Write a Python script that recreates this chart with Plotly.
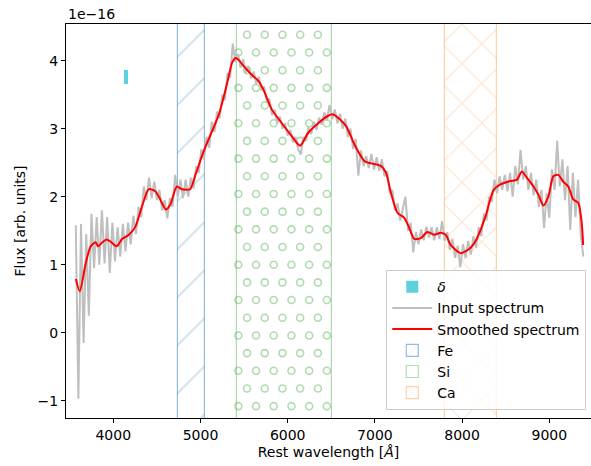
import numpy as np
import plotly.graph_objects as go

# ---------------- data (flux in units of 1e-16) ----------------
input_flux = [
    1.58, -0.97, 1.60, -0.15, 1.45, 0.25, 1.75, 0.95, 1.70, 1.00,
    1.80, 1.02, 1.70, 0.88, 1.62, 1.05, 1.55, 1.12, 1.60, 1.20,
    1.62, 1.30, 1.72, 1.45, 1.85, 1.70, 2.15, 1.95, 2.28, 1.98,
    2.22, 1.95, 2.10, 1.80, 1.95, 1.68, 1.98, 1.85, 2.32, 2.00,
    2.25, 1.98, 2.25, 2.00, 2.28, 2.12, 2.45, 2.35, 2.70, 2.55,
    2.88, 2.72, 3.10, 2.95, 3.25, 3.15, 3.50, 3.42, 3.82, 3.75,
    4.25, 3.98, 4.10, 3.90, 4.02, 3.82, 3.92, 3.74, 3.84, 3.66,
    3.76, 3.56, 3.62, 3.40, 3.44, 3.20, 3.28, 3.08, 3.18, 3.00,
    3.08, 2.90, 2.98, 2.80, 2.88, 2.70, 2.62, 2.88, 2.82, 3.02,
    2.92, 3.10, 2.98, 3.16, 3.06, 3.24, 3.12, 3.35, 3.14, 3.28,
    3.08, 3.22, 3.00, 3.15, 2.88, 3.00, 2.70, 2.85, 2.31, 2.68,
    2.45, 2.60, 2.42, 2.63, 2.40, 2.58, 2.38, 2.55, 2.30, 2.38,
    2.05, 2.10, 1.80, 1.90, 1.65, 1.85, 2.00, 1.50, 1.62, 1.18,
    1.48, 1.30, 1.52, 1.36, 1.56, 1.40, 1.55, 1.36, 1.55, 1.38,
    1.64, 1.35, 1.48, 1.22, 1.38, 1.10, 1.28, 0.96, 1.30, 1.10,
    1.35, 1.15, 1.42, 1.25, 1.55, 1.42, 1.75, 1.65, 2.00, 1.92,
    2.25, 2.05, 2.30, 2.10, 2.32, 2.08, 2.35, 2.00, 2.45, 2.18,
    2.69, 2.25, 2.45, 2.10, 2.35, 2.02, 2.25, 1.85, 2.10, 1.54,
    2.05, 1.69, 2.40, 2.10, 2.82, 2.15, 2.55, 1.95, 2.45, 1.51,
    2.35, 1.70, 2.25, 1.45, 1.12,
]
input_start, input_step = 3570, 30
input_wl = input_start + input_step * np.arange(len(input_flux))

smooth_wl = [
    3571, 3616, 3684, 3741, 3798, 3826, 3875, 3924, 3969, 4038,
    4103, 4179, 4254, 4330, 4407, 4482, 4539, 4604, 4653, 4729,
    4786, 4880, 4937, 5014, 5059, 5211, 5306, 5363, 5401, 5439,
    5495, 5591, 5666, 5723, 5819, 5933, 6047, 6141, 6236, 6350,
    6464, 6521, 6577, 6673, 6768, 6882, 6958, 7072, 7128, 7185,
    7261, 7337, 7394, 7451, 7527, 7603, 7679, 7755, 7812, 7869,
    7983, 8097, 8172, 8268, 8362, 8439, 8553, 8628, 8685, 8742,
    8818, 8875, 8932, 8989, 9046, 9103, 9160, 9217, 9274, 9331,
    9368, 9388,
]
smooth_flux = [
    0.79, 0.61, 1.02, 1.27, 1.33, 1.27, 1.33, 1.37, 1.34, 1.27,
    1.38, 1.44, 1.56, 1.86, 2.11, 2.08, 1.96, 1.81, 1.88, 2.15,
    2.11, 2.11, 2.30, 2.59, 2.74, 3.21, 3.67, 3.97, 4.04, 4.01,
    3.92, 3.79, 3.70, 3.57, 3.28, 3.08, 2.89, 2.75, 2.94, 3.08,
    3.19, 3.21, 3.16, 3.03, 2.76, 2.52, 2.49, 2.45, 2.35, 2.05,
    1.76, 1.69, 1.54, 1.38, 1.39, 1.48, 1.44, 1.47, 1.44, 1.29,
    1.17, 1.25, 1.39, 1.71, 2.10, 2.18, 2.23, 2.25, 2.37, 2.28,
    2.15, 2.03, 1.87, 2.00, 2.30, 2.32, 2.22, 2.15, 1.96, 1.91,
    1.66, 1.29,
]

band_names = ["Fe", "Si", "Ca"]
band_lo = [4745, 5420, 7800]
band_hi = [5050, 6510, 8400]

delta_wl = 4142
delta_width = 46
delta_lo = 3.66
delta_hi = 3.87

x_ticks = [4000, 5000, 6000, 7000, 8000, 9000]
y_ticks = [-1, 0, 1, 2, 3, 4]
y_ticktext = ["\u22121", "0", "1", "2", "3", "4"]

# ---------------- style ----------------
X_RANGE = [3458, 9478]
Y_RANGE = [-1.254, 4.539]
FONT = "DejaVu Sans"
FS = 14
band_colors = ["rgba(31,119,180,0.48)", "rgba(44,160,44,0.38)", "rgba(255,127,14,0.36)"]
band_patterns = ["/", "", "x"]
band_pat_size = [34, 10, 28]
band_pat_solid = [0.05, 0.1, 0.09]

fig = go.Figure()

# hatched bands
for i, name in enumerate(band_names):
    lo, hi = band_lo[i], band_hi[i]
    fig.add_trace(go.Bar(
        x=[(lo + hi) / 2], width=[hi - lo], base=[Y_RANGE[0] - 1],
        y=[Y_RANGE[1] - Y_RANGE[0] + 2],
        name=name, legendrank=10 + i,
        marker=dict(color="rgba(0,0,0,0)",
                    line=dict(color=band_colors[i], width=1.2),
                    pattern=dict(shape=band_patterns[i], fgcolor=band_colors[i],
                                 bgcolor="rgba(0,0,0,0)", size=band_pat_size[i],
                                 solidity=band_pat_solid[i])),
        hoverinfo="skip",
    ))
    if name == "Si":
        # 'o' hatch: open circles in a staggered grid inside the band
        dx_h, dy_h = 203, 0.26
        xs, ys = [], []
        row = 0
        yv = 4.38
        while yv > Y_RANGE[0] - 0.1:
            start = lo + 114 if row % 2 == 0 else lo + 14
            xv = start
            while xv < hi:
                xs.append(xv)
                ys.append(yv)
                xv += dx_h
            yv -= dy_h
            row += 1
        fig.add_trace(go.Scatter(
            x=xs, y=ys, mode="markers", showlegend=False, hoverinfo="skip",
            marker=dict(symbol="circle-open", size=7, color=band_colors[i],
                        line=dict(width=1.6, color=band_colors[i])),
        ))

# delta marker
fig.add_trace(go.Bar(
    x=[delta_wl], width=[delta_width], base=[delta_lo], y=[delta_hi - delta_lo],
    name="<i>δ</i>", legendrank=1,
    marker=dict(color="rgba(23,190,207,0.7)", line=dict(width=0)),
))

# spectra
fig.add_trace(go.Scatter(
    x=input_wl, y=input_flux, mode="lines", name="Input spectrum", legendrank=2,
    line=dict(color="#bfbfbf", width=2),
))
fig.add_trace(go.Scatter(
    x=smooth_wl, y=smooth_flux, mode="lines", name="Smoothed spectrum", legendrank=3,
    line=dict(color="#ff0000", width=2, shape="spline", smoothing=0.7),
))

fig.update_layout(
    width=591, height=466,
    margin=dict(l=66, r=0, t=24, b=48),
    paper_bgcolor="white", plot_bgcolor="white",
    font=dict(family=FONT, size=FS, color="black"),
    barmode="overlay", bargap=0,
    showlegend=True,
    legend=dict(x=0.991, xanchor="right", y=0.02, yanchor="bottom",
                bgcolor="rgba(255,255,255,0.8)", bordercolor="#cccccc",
                borderwidth=1, font=dict(size=FS), traceorder="normal",
                itemwidth=40),
    xaxis=dict(range=X_RANGE, tickvals=x_ticks, showgrid=False, zeroline=False,
               showline=True, linecolor="black", linewidth=1, mirror=True,
               ticks="outside", ticklen=4, tickcolor="black",
               tickfont=dict(size=FS),
               title=dict(text="Rest wavelength [<i>Å</i>]", standoff=5,
                          font=dict(size=FS))),
    yaxis=dict(range=Y_RANGE, tickvals=y_ticks, ticktext=y_ticktext,
               showgrid=False, zeroline=False,
               showline=True, linecolor="black", linewidth=1, mirror=False,
               ticks="outside", ticklen=4, tickcolor="black",
               tickfont=dict(size=FS),
               title=dict(text="Flux [arb. units]", standoff=8,
                          font=dict(size=FS))),
    annotations=[dict(text="1e\u221216", xref="paper", yref="paper", x=0, y=1,
                      xanchor="left", yanchor="bottom", showarrow=False,
                      yshift=0, font=dict(size=FS))],
)

fig.write_html("out.html")
